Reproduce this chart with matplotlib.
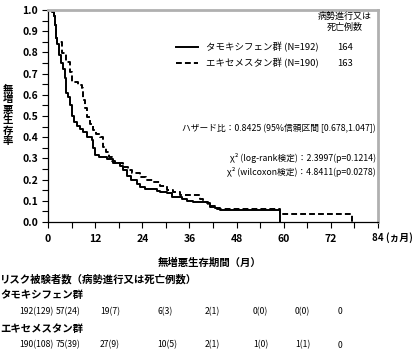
import numpy as np
import matplotlib.pyplot as plt
from matplotlib.ticker import MultipleLocator

plt.rcParams['font.family'] = ['Noto Sans CJK JP', 'DejaVu Sans']

# Kaplan-Meier steps (months, survival)
tam_t = [0, 1.0, 1.5, 1.8, 2.1, 2.4, 2.9, 3.4, 3.9, 4.2, 4.5, 5.2, 5.6, 6.0, 6.5, 7.3,
         8.2, 9.0, 10.0, 11.1, 11.5, 12.0, 13.0, 14.9, 16.6, 18.3, 19.2, 20.0, 21.2,
         22.6, 23.5, 24.7, 27.7, 28.5, 30.2, 31.5, 34.0, 35.5, 37.0, 40.4, 41.2, 42.5,
         43.8, 59.0]
tam_s = [1.0, 0.99, 0.97, 0.93, 0.87, 0.84, 0.79, 0.75, 0.72, 0.68, 0.61, 0.59, 0.55,
         0.50, 0.47, 0.455, 0.44, 0.425, 0.40, 0.385, 0.35, 0.316, 0.305, 0.295, 0.28,
         0.265, 0.245, 0.215, 0.20, 0.18, 0.165, 0.155, 0.145, 0.14, 0.135, 0.12, 0.11,
         0.10, 0.095, 0.088, 0.072, 0.065, 0.058, 0.0]

exe_t = [0, 1.0, 1.5, 1.8, 2.1, 2.4, 3.5, 4.7, 5.7, 6.0, 7.7, 8.6, 9.0, 9.5, 10.0,
         10.8, 11.5, 12.3, 13.2, 14.1, 14.8, 15.4, 16.2, 17.1, 19.2, 20.4, 21.3, 23.4,
         25.0, 26.8, 28.5, 30.2, 31.9, 33.6, 38.7, 39.5, 40.8, 42.9, 59.0, 77.3]
exe_s = [1.0, 0.99, 0.97, 0.93, 0.87, 0.85, 0.795, 0.756, 0.709, 0.662, 0.646, 0.63,
         0.575, 0.54, 0.497, 0.46, 0.434, 0.415, 0.40, 0.355, 0.33, 0.308, 0.29, 0.277,
         0.26, 0.245, 0.232, 0.214, 0.20, 0.19, 0.17, 0.15, 0.143, 0.127, 0.11, 0.096,
         0.075, 0.06, 0.036, 0.0]

groups = ['タモキシフェン群', 'エキセメスタン群']
group_n = [192, 190]
events = [164, 163]

x_ticks = [0, 12, 24, 36, 48, 60, 72, 84]
y_ticks = [0.0, 0.1, 0.2, 0.3, 0.4, 0.5, 0.6, 0.7, 0.8, 0.9, 1.0]

risk_tam = ['192(129)', '57(24)', '19(7)', '6(3)', '2(1)', '0(0)', '0(0)', '0']
risk_exe = ['190(108)', '75(39)', '27(9)', '10(5)', '2(1)', '1(0)', '1(1)', '0']

W, H = 420, 350
fig = plt.figure(figsize=(W / 100, H / 100), dpi=100)
ax = fig.add_axes([48 / W, 1 - 222 / H, 330 / W, 212 / H])

ax.step(tam_t, tam_s, where='post', color='black', lw=1.4)
ax.step(exe_t, exe_s, where='post', color='black', lw=1.4, ls=(0, (3, 1.6)))

ax.set_xlim(0, 84)
ax.set_ylim(0, 1.0)
ax.set_xticks(x_ticks)
ax.set_xticklabels([str(v) for v in x_ticks[:-1]] + [''])
ax.set_yticks(y_ticks)
ax.set_yticklabels([f'{v:.1f}' for v in y_ticks])
ax.xaxis.set_minor_locator(MultipleLocator(6))
ax.yaxis.set_minor_locator(MultipleLocator(0.05))
ax.tick_params(which='both', direction='out', length=4, width=0.8, labelsize=7.5, pad=3)
ax.tick_params(axis='x', pad=5)
for lab in ax.get_xticklabels() + ax.get_yticklabels():
    lab.set_fontweight('bold')

for side in ['top', 'right']:
    ax.spines[side].set_color('#b0b0b0')
    ax.spines[side].set_linewidth(2)
ax.spines['left'].set_linewidth(0.9)
ax.spines['bottom'].set_linewidth(0.9)

fig.text(372 / W, 1 - 238 / H, '84 (ヵ月)', ha='left', va='center', fontsize=7,
         fontweight='bold')

fig.text(8 / W, 1 - 115 / H, '\n'.join('無増悪生存率'), ha='center', va='center',
         fontsize=7.5, fontweight='bold', linespacing=1.05)

# legend block
fig.text(345 / W, 1 - 22 / H, '病勢進行又は\n死亡例数', ha='center', va='center',
         fontsize=6.5, linespacing=1.2)
ys = [47, 63]
styles = ['-', (0, (3, 1.6))]
for name, n, ev, y, st in zip(groups, group_n, events, ys, styles):
    fig.add_artist(plt.Line2D([176 / W, 198 / W], [1 - y / H, 1 - y / H], color='black',
                              lw=1.4, ls=st))
    fig.text(206 / W, 1 - y / H, f'{name} (N={n})', ha='left', va='center', fontsize=6.8)
    fig.text(345 / W, 1 - y / H, str(ev), ha='center', va='center', fontsize=6.8)

fig.text(376 / W, 1 - 128 / H, 'ハザード比：0.8425 (95%信頼区間 [0.678,1.047])',
         ha='right', va='center', fontsize=6.3)
fig.text(376 / W, 1 - 158 / H, 'χ² (log-rank検定)：2.3997(p=0.1214)',
         ha='right', va='center', fontsize=6.3)
fig.text(376 / W, 1 - 172 / H, 'χ² (wilcoxon検定)：4.8411(p=0.0278)',
         ha='right', va='center', fontsize=6.3)

fig.text(210 / W, 1 - 263 / H, '無増悪生存期間（月）', ha='center', va='center',
         fontsize=7.5, fontweight='bold')

# number at risk table
fig.text(0, 1 - 279 / H, 'リスク被験者数（病勢進行又は死亡例数）', ha='left', va='center',
         fontsize=7.5, fontweight='bold')
fig.text(0, 1 - 295 / H, groups[0], ha='left', va='center', fontsize=7.5, fontweight='bold')
fig.text(0, 1 - 329 / H, groups[1], ha='left', va='center', fontsize=7.5, fontweight='bold')
col_x = [19, 56, 100, 157, 205, 253, 295, 338]
for row, y in zip([risk_tam, risk_exe], [312, 345]):
    for val, x in zip(row, col_x):
        fig.text(x / W, 1 - y / H, val, ha='left', va='center', fontsize=6.2)

fig.savefig('out.png', dpi=100)
